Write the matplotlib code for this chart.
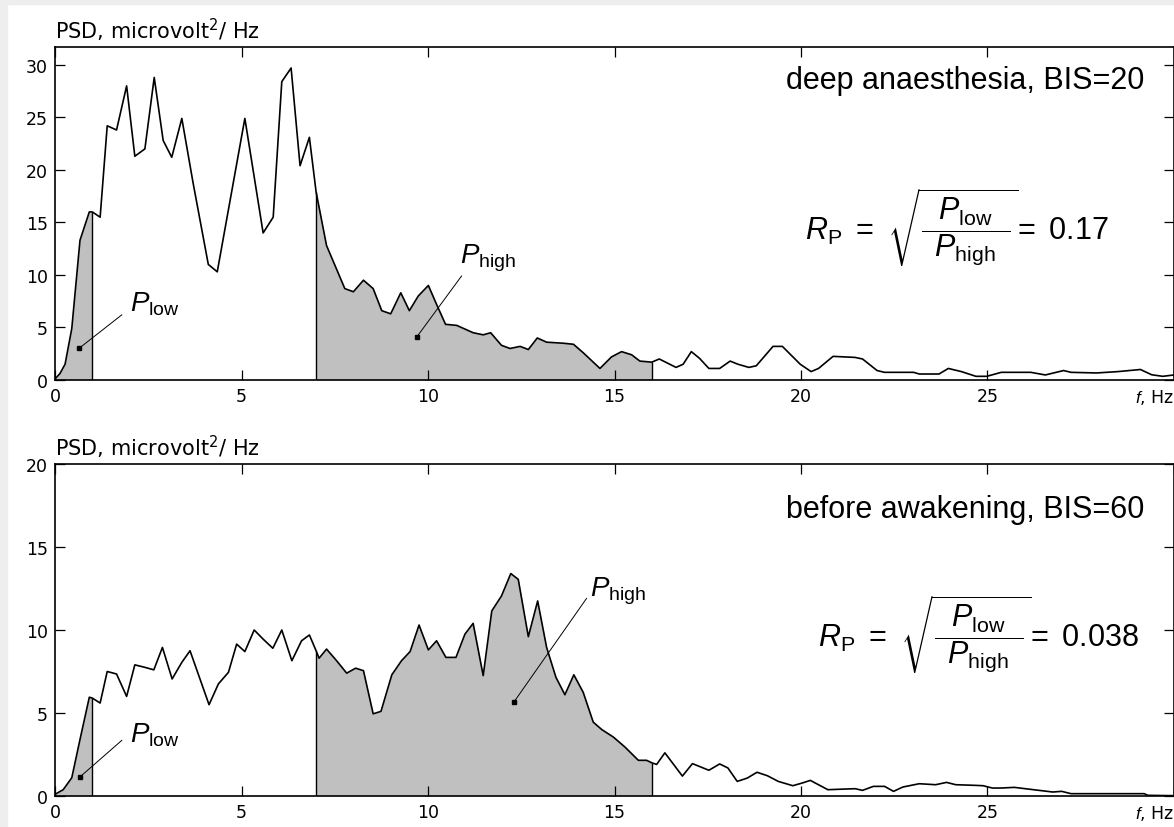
import numpy as np
import matplotlib.pyplot as plt
from matplotlib.patches import Rectangle

plt.rcParams['font.family'] = ['DejaVu Sans']
plt.rcParams['mathtext.fontset'] = 'custom'
plt.rcParams['mathtext.rm'] = 'Liberation Sans'
plt.rcParams['mathtext.it'] = 'Liberation Sans:italic'
plt.rcParams['mathtext.bf'] = 'Liberation Sans:bold'

# deep anaesthesia, BIS=20
f_deep = [0, 0.13, 0.27, 0.45, 0.67, 0.92, 1.0, 1.21, 1.40, 1.65, 1.92, 2.14, 2.41, 2.66,
          2.90, 3.13, 3.40, 3.70, 4.11, 4.35, 5.09, 5.58, 5.85, 6.08, 6.33, 6.57, 6.82,
          7.0, 7.28, 7.77, 8.0, 8.27, 8.53, 8.76, 9.0, 9.27, 9.5, 9.74, 10.01, 10.23,
          10.47, 10.77, 11.21, 11.48, 11.68, 11.97, 12.2, 12.47, 12.69, 12.93, 13.18,
          13.63, 13.9, 14.16, 14.61, 14.92, 15.19, 15.46, 15.68, 16.0, 16.2, 16.65,
          16.84, 17.06, 17.28, 17.53, 17.82, 18.1, 18.31, 18.6, 18.8, 19.25, 19.5,
          19.98, 20.27, 20.47, 20.86, 21.45, 21.65, 22.04, 22.24, 23.02, 23.17, 23.7,
          23.95, 24.3, 24.69, 24.98, 25.37, 26.16, 26.55, 27.04, 27.24, 27.92, 28.5,
          28.8, 29.1, 29.4, 29.7, 30.0]
psd_deep = [0.1, 0.6, 1.5, 4.9, 13.3, 16.0, 16.0, 15.5, 24.2, 23.8, 28.0, 21.3, 22.0, 28.8,
            22.8, 21.2, 24.9, 18.8, 11.0, 10.3, 24.9, 14.0, 15.5, 28.4, 29.7, 20.4, 23.1,
            17.9, 12.8, 8.7, 8.4, 9.5, 8.7, 6.6, 6.3, 8.3, 6.6, 8.0, 9.0, 7.2,
            5.3, 5.2, 4.5, 4.3, 4.5, 3.3, 3.0, 3.2, 2.9, 4.0, 3.6,
            3.5, 3.4, 2.6, 1.1, 2.2, 2.7, 2.4, 1.8, 1.7, 2.0, 1.2,
            1.5, 2.7, 2.06, 1.1, 1.1, 1.8, 1.5, 1.2, 1.35, 3.2, 3.2,
            1.5, 0.8, 1.1, 2.25, 2.15, 2.0, 0.9, 0.73, 0.73, 0.57, 0.57,
            1.1, 0.8, 0.35, 0.35, 0.73, 0.73, 0.48, 0.9, 0.73, 0.67, 0.8,
            0.9, 1.0, 0.5, 0.35, 0.48]

# before awakening, BIS=60
f_wake = [0, 0.22, 0.45, 0.67, 0.92, 1.0, 1.21, 1.40, 1.65, 1.92, 2.14, 2.41, 2.65, 2.88,
          3.14, 3.40, 3.62, 4.13, 4.38, 4.65, 4.87, 5.09, 5.34, 5.58, 5.84, 6.08, 6.35,
          6.61, 6.82, 7.0, 7.08, 7.28, 7.55, 7.82, 8.06, 8.27, 8.53, 8.74, 9.03, 9.29,
          9.52, 9.76, 10.01, 10.23, 10.48, 10.75, 10.99, 11.21, 11.48, 11.71, 11.97,
          12.22, 12.42, 12.69, 12.94, 13.18, 13.43, 13.67, 13.91, 14.16, 14.43, 14.66,
          14.97, 15.28, 15.64, 15.86, 16.0, 16.13, 16.35, 16.82, 17.09, 17.53, 17.82,
          18.04, 18.29, 18.56, 18.82, 19.1, 19.39, 19.78, 20.03, 20.25, 20.72, 21.45,
          21.65, 21.94, 22.24, 22.48, 22.73, 23.17, 23.61, 23.9, 24.15, 24.69, 24.88,
          25.13, 25.37, 25.72, 26.01, 26.75, 26.99, 27.24, 29.2, 29.3, 30.0]
psd_wake = [0.1, 0.38, 1.1, 3.4, 5.95, 5.9, 5.6, 7.5, 7.35, 6.0, 7.9, 7.75, 7.6, 8.95,
            7.05, 8.05, 8.75, 5.5, 6.75, 7.45, 9.15, 8.7, 10.0, 9.45, 8.9, 10.0, 8.15,
            9.35, 9.7, 8.75, 8.3, 8.85, 8.15, 7.4, 7.7, 7.55, 4.95, 5.1, 7.3, 8.15,
            8.7, 10.3, 8.8, 9.35, 8.35, 8.35, 9.75, 10.4, 7.25, 11.15, 12.05,
            13.4, 13.05, 9.6, 11.75, 8.95, 7.15, 6.1, 7.3, 6.25, 4.45, 4.0,
            3.55, 2.95, 2.15, 2.15, 2.0, 1.9, 2.6, 1.2, 1.95, 1.55, 1.93,
            1.69, 0.88, 1.08, 1.43, 1.22, 0.88, 0.62, 0.78, 0.94, 0.38, 0.44,
            0.34, 0.58, 0.58, 0.28, 0.54, 0.74, 0.68, 0.82, 0.68, 0.64, 0.62,
            0.48, 0.48, 0.52, 0.44, 0.24, 0.28, 0.14, 0.14, 0.04, 0.02]

low_band = (0, 1)
high_band = (7, 16)
xticks = [0, 5, 10, 15, 20, 25, 30]
xticklabels = ['0', '5', '10', '15', '20', '25', '$f$, Hz']
titles = ['deep anaesthesia, BIS=20', 'before awakening, BIS=60']
ratios = ['0.17', '0.038']

W, H = 1174, 828
fig = plt.figure(figsize=(W / 100, H / 100), dpi=100)
fig.patches.append(Rectangle((0, 0), 7 / W, 1, transform=fig.transFigure,
                             color='#eeeeee', zorder=0))
fig.patches.append(Rectangle((0, 1 - 5 / H), 1, 5 / H, transform=fig.transFigure,
                             color='#eeeeee', zorder=0))

ax1 = fig.add_axes([55 / W, (H - 381) / H, 1 - 55 / W, (381 - 48) / H])
ax2 = fig.add_axes([55 / W, (H - 797) / H, 1 - 55 / W, (797 - 465) / H])

panels = [
    # ax, f, psd, ymax, yticks, title pos, formula pos, P_low (dot, end, text), P_high (dot, end, text)
    (ax1, f_deep, psd_deep, 31.7, [0, 5, 10, 15, 20, 25, 30], (29.2, 28.6), (20.1, 14.6),
     ((0.64, 3.0), (1.79, 6.2), (2.0, 6.6)), ((9.7, 4.1), (10.9, 9.9), (10.85, 11.2))),
    (ax2, f_wake, psd_wake, 20, [0, 5, 10, 15, 20], (29.2, 17.3), (20.45, 9.76),
     ((0.67, 1.15), (1.79, 3.35), (2.0, 3.3)), ((12.3, 5.65), (14.25, 11.9), (14.35, 12.1))),
]

for i, (ax, f, p, ymax, yticks, tpos, fpos, plow, phigh) in enumerate(panels):
    f = np.array(f)
    p = np.array(p)
    for a, b in (low_band, high_band):
        inside = (f > a) & (f < b)
        fx = np.concatenate([[a], f[inside], [b]])
        fy = np.interp(fx, f, p)
        ax.fill_between(fx, fy, color='#c0c0c0', lw=0, zorder=1)
        ax.vlines([a, b], 0, np.interp([a, b], f, p), color='black', lw=1.0, zorder=2)
    ax.plot(f, p, color='black', lw=1.2, zorder=3)

    ax.set_xlim(0, 30)
    ax.set_ylim(0, ymax)
    ax.set_xticks(xticks)
    ax.set_xticklabels(xticklabels)
    ax.get_xticklabels()[-1].set_horizontalalignment('right')
    ax.set_yticks(yticks)
    ax.tick_params(direction='in', length=7, width=0.9, top=True, right=True,
                   labelsize=12.5, pad=5)
    for s in ax.spines.values():
        s.set_linewidth(1.2)

    ax.text(0, 1.012, 'PSD, microvolt$^2$/ Hz', transform=ax.transAxes, ha='left',
            va='bottom', fontsize=15, math_fontfamily='dejavusans')
    ax.text(tpos[0], tpos[1], titles[i], ha='right', va='center', fontsize=22,
            family='Liberation Sans')
    ax.text(fpos[0], fpos[1],
            r'$R_{\mathrm{P}}\ =\ \sqrt{\dfrac{\ \,P_{\mathrm{low}}\ \,}{\ \,P_{\mathrm{high}}\ \,}}\!=\ \mathrm{%s}$'
            % ratios[i], ha='left', va='center', fontsize=22)

    for (dot, end, txt), lab in ((plow, r'$P_{\mathrm{low}}$'), (phigh, r'$P_{\mathrm{high}}$')):
        ax.plot([dot[0], end[0]], [dot[1], end[1]], color='black', lw=0.7, zorder=4)
        ax.plot(dot[0], dot[1], 's', color='black', ms=2.5, zorder=4)
        ax.text(txt[0], txt[1], lab, ha='left', va='baseline', fontsize=20, zorder=4)

fig.savefig('out.png', dpi=100)
